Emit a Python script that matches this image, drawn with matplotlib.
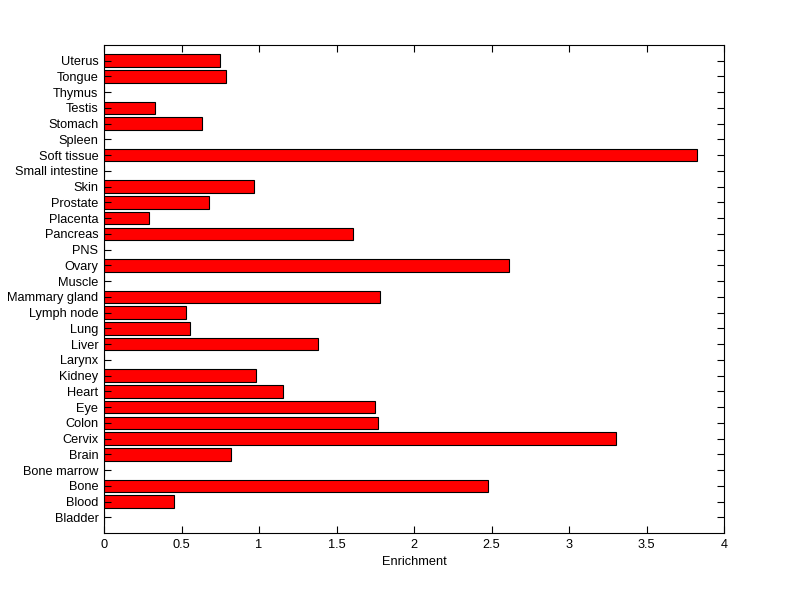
import matplotlib
matplotlib.use("Agg")
import matplotlib.pyplot as plt

plt.rcParams.update({"font.family": ["Liberation Sans", "DejaVu Sans"], "font.size": 9.2})

# categories bottom-to-top, as drawn by barh
tissues = ["Bladder", "Blood", "Bone", "Bone marrow", "Brain", "Cervix", "Colon",
           "Eye", "Heart", "Kidney", "Larynx", "Liver", "Lung", "Lymph node",
           "Mammary gland", "Muscle", "Ovary", "PNS", "Pancreas", "Placenta",
           "Prostate", "Skin", "Small intestine", "Soft tissue", "Spleen",
           "Stomach", "Testis", "Thymus", "Tongue", "Uterus"]
enrichment = [0, 0.454, 2.48, 0, 0.821, 3.305, 1.77,
              1.751, 1.157, 0.983, 0, 1.383, 0.553, 0.531,
              1.783, 0, 2.615, 0, 1.608, 0.288,
              0.68, 0.965, 0, 3.827, 0,
              0.63, 0.33, 0, 0.785, 0.75]

fig = plt.figure(figsize=(8, 5.99), dpi=100)
ax = fig.add_axes([0.13, 0.11, 0.775, 0.815])

pos = range(1, len(tissues) + 1)
ax.barh(list(pos), enrichment, height=0.8, color="#ff0000",
        edgecolor="black", linewidth=0.8)

ax.set_xlim(0, 4)
ax.set_ylim(0, len(tissues) + 1)
ax.set_xticks([0, 0.5, 1, 1.5, 2, 2.5, 3, 3.5, 4])
ax.set_xticklabels(["0", "0.5", "1", "1.5", "2", "2.5", "3", "3.5", "4"])
ax.set_yticks(list(pos))
ax.set_yticklabels(tissues)
ax.tick_params(direction="in", length=5, width=0.8, top=True, right=True, pad=4)
for s in ax.spines.values():
    s.set_linewidth(0.8)
ax.set_xlabel("Enrichment", labelpad=4)

fig.savefig("out.png", dpi=100)
